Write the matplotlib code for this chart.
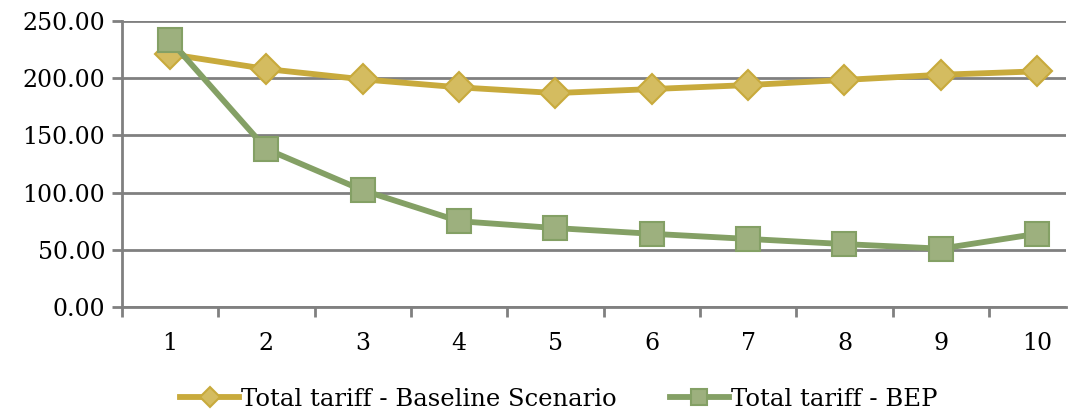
import numpy as np
import matplotlib
matplotlib.use('Agg')
import matplotlib.pyplot as plt

# Dados
periods = [1, 2, 3, 4, 5, 6, 7, 8, 9, 10]
baseline = [221, 208, 199, 192, 187, 190.5, 194, 198.5, 203, 206]
bep = [233, 138, 102, 75, 69, 64, 59.5, 55, 51, 64]
y_ticks = [0, 50, 100, 150, 200, 250]

plt.rcParams['font.family'] = ['DejaVu Serif']

fig = plt.figure(figsize=(10.68, 4.09), dpi=100)
ax = fig.add_axes([122/1068, 1 - 307/409, (1066 - 122)/1068, (307 - 21)/409])

grid_c = '#808080'
ax.plot(periods, baseline, '-D', color='#C8AA3C', lw=4.2, ms=15,
        mfc='#D4BC60', mec='#C8AA3C', mew=1.5, label='Total tariff - Baseline Scenario', zorder=3)
ax.plot(periods, bep, '-s', color='#84A065', lw=4.2, ms=17,
        mfc='#9DB07E', mec='#84A065', mew=1.5, label='Total tariff - BEP', zorder=4)

ax.set_xlim(0.5, 10.30)
ax.set_ylim(0, 250)
ax.set_yticks(y_ticks)
ax.set_yticklabels(['%.2f' % v for v in y_ticks])
ax.set_xticks(periods)
ax.set_xticks(np.arange(0.5, 10.5, 1), minor=True)
ax.tick_params(axis='x', which='major', length=0, pad=18, labelsize=17)
ax.tick_params(axis='x', which='minor', length=7, width=2, color=grid_c, direction='out')
ax.tick_params(axis='y', length=7, width=2, color=grid_c, labelsize=17, pad=5)

ax.yaxis.grid(True, color=grid_c, lw=2)
ax.set_axisbelow(True)
for s in ['top', 'right']:
    ax.spines[s].set_visible(False)
for s in ['left', 'bottom']:
    ax.spines[s].set_color(grid_c)
    ax.spines[s].set_linewidth(2)
    ax.spines[s].set_zorder(2)

leg = fig.legend(loc='center', bbox_to_anchor=(559/1068, 1 - 399/409), ncol=2, frameon=False,
                 fontsize=17.5, handlelength=2.4, markerscale=0.65, columnspacing=2.2,
                 handletextpad=0.1)

fig.savefig('out.png', dpi=100)
